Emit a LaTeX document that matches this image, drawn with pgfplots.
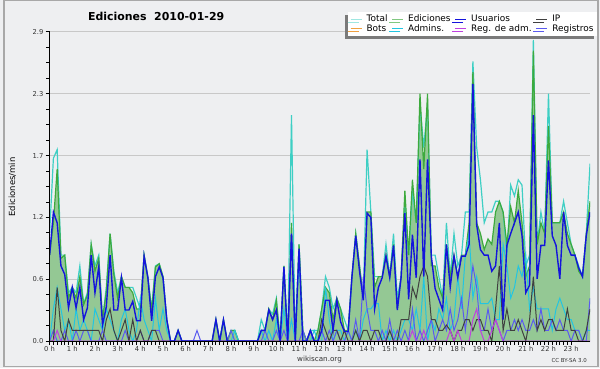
\documentclass[border=0pt]{standalone}
\usepackage{fontspec}
\setmainfont{DejaVu Sans}
\usepackage{pgfplots}
\pgfplotsset{compat=1.18}
\usepackage{pgfplotstable}
\usetikzlibrary{shadows}

\definecolor{bgc}{HTML}{EEEFF1}
\definecolor{gridc}{HTML}{C8C8C8}
\definecolor{tickc}{HTML}{333333}
\definecolor{framec}{HTML}{A8A8A8}
\definecolor{shadowc}{HTML}{7A7A7A}
\definecolor{fillc}{HTML}{94C894}
\definecolor{cTotal}{HTML}{3ECFC4}
\definecolor{cEd}{HTML}{3DAA3D}
\definecolor{cUs}{HTML}{1414DC}
\definecolor{cIP}{HTML}{404040}
\definecolor{cBots}{HTML}{F0A040}
\definecolor{cAdm}{HTML}{22C5E2}
\definecolor{cRA}{HTML}{C040E0}
\definecolor{cReg}{HTML}{5A5AF0}

\pgfplotsset{
  layers/mylayers/.define layer set={axis background,axis grid,main,axis ticks,axis lines,axis tick labels,axis descriptions,axis foreground}{/pgfplots/layers/standard},
}

\pgfplotstableread{
s T E U I A R M
0 1.0 0.8 0.8 0 0 0 0
1 1.7 1.1 1.2 0 0.3 0.1 0
2 1.78 1.6 1.1 0.5 0.5 0 0.1
3 0.8 0.77 0.7 0.1 0.3 0 0
4 0.8 0.8 0.62 0 0.1 0.1 0
5 0.45 0.4 0.31 0.2 0.2 0 0
6 0.5 0.5 0.5 0.1 0 0 0
7 0.45 0.4 0.31 0.1 0.3 0.1 0
8 0.7 0.6 0.5 0.1 0.1 0 0
9 0.35 0.34 0.2 0.1 0.2 0.1 0
10 0.45 0.43 0.31 0.1 0.1 0.1 0
11 0.9 0.9 0.8 0.1 0 0 0
12 0.7 0.65 0.45 0.1 0.3 0 0
13 0.8 0.77 0.69 0.1 0.2 0 0
14 0.2 0.2 0.15 0 0.1 0.1 0
15 0.5 0.46 0.32 0.2 0.3 0 0
16 1.0 1.0 0.8 0.3 0.2 0 0
17 0.65 0.62 0.29 0.1 0.1 0 0
18 0.45 0.4 0.29 0 0 0 0
19 0.6 0.6 0.59 0.1 0.2 0 0
20 0.5 0.5 0.29 0.2 0.3 0.1 0
21 0.5 0.5 0.29 0 0.1 0 0
22 0.5 0.45 0.37 0.2 0 0 0
23 0.4 0.3 0.19 0 0.1 0 0
24 0.3 0.3 0.19 0.1 0.4 0.1 0
25 0.8 0.8 0.79 0 0.2 0 0
26 0.6 0.59 0.59 0 0.1 0 0
27 0.3 0.28 0.19 0.1 0 0.1 0
28 0.7 0.69 0.6 0.1 0.4 0.1 0
29 0.72 0.72 0.69 0 0.1 0.1 0
30 0.6 0.6 0.59 0 0.3 0 0
31 0.2 0.2 0.2 0 0.1 0 0
32 0 0 0 0 0 0 0
33 0 0 0 0 0 0 0
34 0.1 0.1 0.1 0 0 0 0
35 0 0 0 0 0 0 0
36 0 0 0 0 0 0 0
37 0 0 0 0 0 0 0
38 0 0 0 0 0 0 0
39 0 0 0 0 0 0.1 0
40 0 0 0 0 0 0 0
41 0 0 0 0 0 0 0
42 0 0 0 0 0 0 0
43 0 0 0 0 0 0 0
44 0.2 0.2 0.2 0 0 0 0
45 0 0 0 0 0 0 0
46 0.2 0.2 0.2 0 0 0 0
47 0 0 0 0 0 0 0
48 0.1 0.1 0 0 0 0.1 0
49 0.1 0.1 0 0 0.1 0 0
50 0 0 0 0 0 0 0
51 0 0 0 0 0 0 0
52 0 0 0 0 0 0 0
53 0 0 0 0 0 0 0
54 0 0 0 0 0 0 0
55 0 0 0 0 0 0 0
56 0.2 0.1 0.1 0 0.1 0 0
57 0.1 0.1 0.1 0 0 0.1 0
58 0.3 0.3 0.29 0 0.1 0 0
59 0.25 0.2 0.2 0 0 0 0
60 0.4 0.38 0.29 0 0.2 0.1 0
61 0 0 0 0 0 0 0
62 0.7 0.7 0.69 0 0.3 0.1 0
63 0 0 0 0 0 0 0
64 2.1 1.1 1.0 0 0.2 1.0 0
65 0 0 0 0 0 0 0
66 0.9 0.9 0.86 0 0.8 0 0
67 0.1 0.1 0 0 0 0.1 0
68 0 0 0 0 0 0 0
69 0.1 0.1 0.1 0 0 0.1 0
70 0.1 0 0 0 0.1 0 0
71 0.1 0.1 0 0 0 0 0
72 0.3 0.3 0.1 0.2 0 0.1 0
73 0.6 0.5 0.38 0.1 0.5 0 0
74 0.5 0.45 0.38 0 0.2 0.1 0
75 0.3 0.2 0.1 0.1 0 0 0
76 0.4 0.4 0.38 0.1 0.1 0.1 0
77 0.3 0.3 0.18 0 0.1 0 0
78 0.2 0.1 0.09 0.1 0 0 0
79 0.1 0.1 0.09 0 0.1 0.1 0
80 0.6 0.6 0.6 0 0 0 0
81 1.0 1.0 0.98 0.1 0.1 0.2 0
82 0.7 0.7 0.65 0 0 0 0
83 0.4 0.4 0.38 0.1 0.2 0.6 0
84 1.78 1.2 1.19 0.1 0.3 0.3 0
85 1.2 1.2 1.15 0 0.3 0.1 0
86 0.6 0.5 0.3 0.1 0.35 0.1 0
87 0.6 0.6 0.5 0.1 0.35 0 0
88 0.6 0.6 0.59 0 0 0.1 0
89 0.9 0.8 0.79 0 0.1 0 0
90 0.6 0.6 0.59 0.1 0 0.2 0
91 1.0 0.9 0.89 0 0.1 0 0
92 0.4 0.3 0.29 0 0 0.1 0
93 0.6 0.6 0.59 0.2 0.1 0 0
94 1.3 1.4 1.19 0.2 0.2 0.1 0
95 0.8 0.8 0.39 0.2 0.2 0 0
96 1.4 1.5 0.99 0.5 0.1 0.3 0.1
97 1.1 1.1 0.59 0.4 0.3 0 0
98 2.2 2.3 1.69 0.6 0.1 0.1 0
99 1.8 1.6 0.6 0.7 0.6 0 0.1
100 2.2 2.3 1.69 0.6 0 0.1 0
101 0.8 0.7 0.79 0.2 0.2 0.2 0
102 0.8 0.7 0.49 0.2 0.1 0 0
103 0.6 0.5 0.39 0.1 0.3 0.1 0
104 0.4 0.4 0.29 0.1 0.2 0.2 0
105 1.1 0.9 0.9 0.15 0.4 0.1 0
106 0.6 0.6 0.5 0.1 0.1 0.3 0.1
107 1.0 0.8 0.79 0 0.2 0.1 0
108 0.7 0.6 0.59 0.1 0.6 0.2 0.1
109 0.8 0.8 0.79 0.1 0.3 0.4 0
110 1.2 0.8 0.79 0.2 0.8 0.1 0
111 1.2 1.1 0.9 0.2 1.0 0.4 0
112 2.6 2.5 2.39 0.1 0.4 0.7 0.2
113 1.8 1.1 1.08 0.2 0.6 0.5 0.3
114 1.5 1.0 0.85 0.2 0.35 0.1 0.1
115 1.1 0.85 0.8 0.1 0.35 0.1 0
116 1.2 0.95 0.8 0.1 0.35 0.3 0
117 1.2 0.9 0.65 0 0.4 0.1 0.1
118 1.3 1.2 0.7 0.3 0.2 0.2 0.2
119 1.3 1.3 1.1 0.7 0.2 0.1 0.1
120 1.2 1.2 0.2 0.1 0.9 0 0
121 0.8 0.9 0.89 0.3 0.7 0.1 0
122 1.45 1.25 1.0 0.1 0.4 0.1 0
123 1.35 1.1 1.1 0.1 0.5 0.2 0
124 1.5 1.4 1.2 0.2 0.7 0.1 0
125 1.45 1.1 0.98 0.1 0.6 0.2 0
126 0.7 0.6 0.45 0 0.8 0.1 0
127 0.8 0.7 0.52 0.2 0.3 0.1 0
128 2.8 2.7 2.1 0.6 0.5 0.2 0
129 0.9 0.9 0.58 0.1 0.3 0.1 0
130 1.2 1.1 0.89 0.2 0.3 0.3 0
131 1.0 1.0 0.89 0.1 0.3 0.1 0
132 2.3 2.0 1.68 0.2 0.3 0.1 0
133 1.1 1.1 0.98 0.2 0.1 0.2 0
134 1.1 1.1 0.89 0.1 0.3 0.1 0
135 1.1 1.1 0.58 0.1 0.4 0.2 0
136 1.3 1.2 1.2 0.1 0.3 0.1 0
137 1.1 1.0 0.89 0.3 0.2 0.1 0
138 0.9 0.9 0.8 0.1 0.2 0 0
139 0.8 0.8 0.8 0.1 0.1 0.1 0
140 0.7 0.65 0.68 0 0.1 0.1 0
141 0.6 0.6 0.6 0 0 0 0
142 1.0 1.0 0.98 0.1 0.1 0 0
143 1.65 1.3 1.2 0.3 0.1 0.4 0
}\data

\begin{document}
\pagecolor{bgc}
\begin{tikzpicture}
\path (0,0) rectangle (600pt,370pt);
\begin{axis}[
  set layers=mylayers,
  scale only axis, width=543.3pt, height=311pt,
  at={(46.7pt,27pt)}, anchor=south west,
  xmin=0, xmax=143, ymin=0, ymax=2.875,
  axis x line*=bottom, axis y line*=left,
  x axis line style={-, line width=1.3pt, black},
  y axis line style={-, line width=1.3pt, black},
  xtick={0,6,...,138},
  xticklabels={0 h,1 h,2 h,3 h,4 h,5 h,6 h,7 h,8 h,9 h,10 h,11 h,12 h,13 h,14 h,15 h,16 h,17 h,18 h,19 h,20 h,21 h,22 h,23 h},
  minor x tick num=5,
  ytick={0,0.575,1.15,1.725,2.3,2.875},
  yticklabels={0.0,0.6,1.2,1.7,2.3,2.9},
  minor y tick num=3,
  tick align=outside, major tick length=4pt, minor tick length=3.5pt,
  tick style={black, line width=0.9pt},
  ymajorgrids, grid style={color=gridc, line width=0.8pt},
  /pgf/number format/assume math mode=true,
  ticklabel style={font=\fontsize{6.8}{7}\selectfont, text=tickc},
  xticklabel style={inner sep=0.5pt},
  yticklabel style={inner sep=2pt},
  legend columns=4, legend cell align=left,
  legend image code/.code={\draw[#1] (0pt,0pt) -- (11pt,0pt);},
  legend style={at={(0.551,1.065)}, anchor=north west, fill=white, draw=none,
    drop shadow={shadow xshift=-3pt, shadow yshift=-3pt, fill=shadowc, opacity=1},
    font=\fontsize{9}{10}\selectfont, inner xsep=2.5pt, inner ysep=2.6pt, row sep=0pt,
    nodes={inner sep=0.6pt},
    /tikz/every odd column/.append style={column sep=4pt},
    /tikz/every even column/.append style={column sep=3.5pt}},
]
\addplot[fill=fillc, draw=none, forget plot] table[x=s,y=E]{\data} \closedcycle;
\addplot[cTotal, line width=1.2pt, forget plot] table[x=s,y=T]{\data};
\addplot[cEd, line width=1.2pt, forget plot] table[x=s,y=E]{\data};
\addplot[cAdm, line width=1pt, forget plot] table[x=s,y=A]{\data};
\addplot[cReg, line width=1pt, forget plot] table[x=s,y=R]{\data};
\addplot[cIP, line width=1pt, forget plot] table[x=s,y=I]{\data};
\addplot[cRA, line width=1pt, forget plot] table[x=s,y=M]{\data};
\addplot[cUs, line width=1.4pt, forget plot] table[x=s,y=U]{\data};

\addlegendimage{cTotal!50!white, line width=1pt}\addlegendentry{Total}
\addlegendimage{cEd!65!white, line width=1pt}\addlegendentry{Ediciones}
\addlegendimage{cUs, line width=1pt}\addlegendentry{Usuarios}
\addlegendimage{cIP, line width=1pt}\addlegendentry{IP}
\addlegendimage{cBots, line width=1pt}\addlegendentry{Bots}
\addlegendimage{cAdm, line width=1pt}\addlegendentry{Admins.}
\addlegendimage{cRA, line width=1pt}\addlegendentry{Reg. de adm.}
\addlegendimage{cReg, line width=1pt}\addlegendentry{Registros}
\end{axis}
\node[anchor=base, font=\bfseries\fontsize{11}{13}\selectfont, text=black] at (153.8pt,349.3pt) {Ediciones\ \ 2010-01-29};
\node[rotate=90, font=\fontsize{8.5}{10}\selectfont, text=black] at (9.2pt,182pt) {Ediciones/min};
\node[font=\fontsize{7.2}{8}\selectfont, text=tickc] at (318pt,9pt) {wikiscan.org};
\node[font=\fontsize{5.5}{6}\selectfont, text=tickc] at (569pt,7.7pt) {CC BY-SA 3.0};
\draw[framec, line width=1.5pt] (0.75pt,1.75pt) rectangle (598pt,369.25pt);
\end{tikzpicture}
\end{document}
